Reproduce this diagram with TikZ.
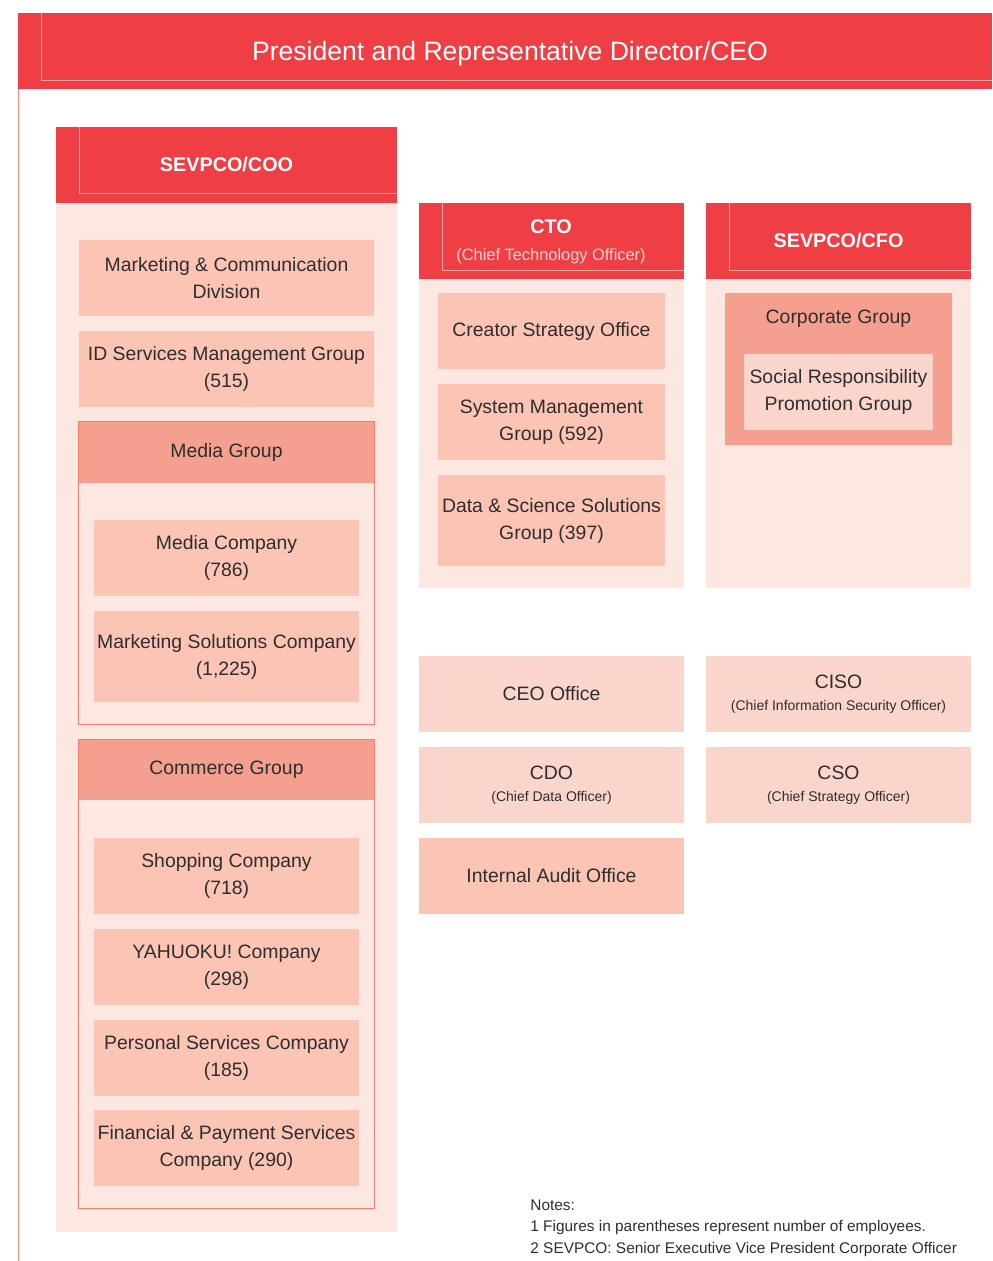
\documentclass[tikz,border=0pt]{standalone}
\usepackage{fontspec}
\setmainfont{Liberation Sans}
\definecolor{ceored}{HTML}{EF3E44}
\definecolor{colbody}{HTML}{FDE7E1}
\definecolor{salmon}{HTML}{FBC4B5}
\definecolor{grouphead}{HTML}{F59F8E}
\definecolor{lightbox}{HTML}{FAD5CB}
\definecolor{grpline}{HTML}{F47C70}
\definecolor{hairpink}{HTML}{F8A4A4}
\definecolor{subpink}{HTML}{FBD3D3}
\definecolor{inkgray}{HTML}{2E2E2E}
\newcommand{\subline}[1]{\\[-2.5pt]{\fontsize{7}{9}\selectfont #1}}

\begin{document}
\begin{tikzpicture}[x=0.5pt,y=-0.5pt,
  wh/.style 2 args={minimum width=#1*0.5pt,minimum height=#2*0.5pt},
  cell/.style={inner sep=0pt,align=center,text=inkgray,font=\fontsize{9.7}{13.5}\selectfont},
  unit/.style={cell,fill=salmon},
  office/.style={cell,fill=lightbox},
  head/.style={inner sep=0pt,align=center,fill=ceored,text=white,font=\bfseries\fontsize{9.9}{13}\selectfont},
  column/.style={inner sep=0pt,fill=colbody},
  hairline/.style={hairpink,line width=0.5pt}]
  \useasboundingbox (0,0) rectangle (992,1261);

  % Top bar and left rule
  \node[head,wh={974}{76}] (ceo) at (505,51) {};
  \node[text=white,font=\fontsize{13.3}{16}\selectfont] (ceotext) at (510,54) {President and Representative Director/CEO};
  \draw[hairline] (41,13) |- (992,81);
  \draw[grpline!90,line width=0.7pt] (18.5,89) -- (18.5,1261);

  % SEVPCO/COO column
  \node[column,wh={341}{1029}] (coobody) at (226.5,717.5) {};
  \node[head,wh={341}{76}] (coo) at (226.5,165) {SEVPCO/COO};
  \draw[hairline] (79,127) |- (397,194);

  \node[unit,wh={295}{76}] (mcd) at (226.5,278) {Marketing \& Communication\\Division};
  \node[unit,wh={295}{76}] (idsm) at (226.5,369) {ID Services Management Group\\(515)};

  % Media Group
  \node[column,wh={295}{302}] (media) at (226.5,573) {};
  \node[cell,fill=grouphead,wh={295}{61}] (mediahead) at (226.5,452.5) {Media Group};
  \draw[grpline,line width=0.5pt] (media.north west) rectangle (media.south east);
  \node[unit,wh={265}{76}] (mediaco) at (226.5,558) {Media Company\\(786)};
  \node[unit,wh={265}{91}] (mktsol) at (226.5,656.5) {Marketing Solutions Company\\(1,225)};

  % Commerce Group
  \node[column,wh={295}{468}] (commerce) at (226.5,974) {};
  \node[cell,fill=grouphead,wh={295}{60}] (commercehead) at (226.5,770) {Commerce Group};
  \draw[grpline,line width=0.5pt] (commerce.north west) rectangle (commerce.south east);
  \node[unit,wh={265}{76}] (shopping) at (226.5,876) {Shopping Company\\(718)};
  \node[unit,wh={265}{76}] (yahuoku) at (226.5,967) {YAHUOKU! Company\\(298)};
  \node[unit,wh={265}{76}] (personal) at (226.5,1058) {Personal Services Company\\(185)};
  \node[unit,wh={265}{76}] (finpay) at (226.5,1148) {Financial \& Payment Services\\Company (290)};

  % CTO column
  \node[column,wh={265}{309}] (ctobody) at (551.5,433.5) {};
  \node[head,wh={265}{76}] (cto) at (551.5,241) {};
  \node[text=white,font=\bfseries\fontsize{9.9}{13}\selectfont] (ctotext) at (551,227) {CTO};
  \node[text=subpink,font=\fontsize{8.2}{10}\selectfont] (ctosub) at (551,256) {(Chief Technology Officer)};
  \draw[hairline] (442,203) |- (684,271);
  \node[unit,wh={227}{76}] (creator) at (551.5,331) {Creator Strategy Office};
  \node[unit,wh={227}{76}] (sysmgmt) at (551.5,422) {System Management\\Group (592)};
  \node[unit,wh={227}{91}] (datasci) at (551.5,520.5) {Data \& Science Solutions\\Group (397)};

  % SEVPCO/CFO column
  \node[column,wh={265}{309}] (cfobody) at (838.5,433.5) {};
  \node[head,wh={265}{76}] (cfo) at (838.5,241) {SEVPCO/CFO};
  \draw[hairline] (729,203) |- (971,271);
  \node[cell,fill=grouphead,wh={227}{152}] (corporate) at (838.5,369) {};
  \node[cell] (corptext) at (838.5,319) {Corporate Group};
  \node[office,wh={189}{76}] (socresp) at (838.5,392) {Social Responsibility\\Promotion Group};

  % Offices reporting to the CEO
  \node[office,wh={265}{76}] (ceooffice) at (551.5,694) {CEO Office};
  \node[office,wh={265}{76}] (ciso) at (838.5,694) {CISO\subline{(Chief Information Security Officer)}};
  \node[office,wh={265}{76}] (cdo) at (551.5,785) {CDO\subline{(Chief Data Officer)}};
  \node[office,wh={265}{76}] (cso) at (838.5,785) {CSO\subline{(Chief Strategy Officer)}};
  \node[unit,wh={265}{76}] (audit) at (551.5,876) {Internal Audit Office};

  % Notes
  \node[anchor=north west,inner sep=0pt,align=left,text=inkgray,font=\fontsize{7.7}{10.8}\selectfont] (notes) at (530,1199)
    {Notes:\\1 Figures in parentheses represent number of employees.\\2 SEVPCO: Senior Executive Vice President Corporate Officer};
\end{tikzpicture}
\end{document}
